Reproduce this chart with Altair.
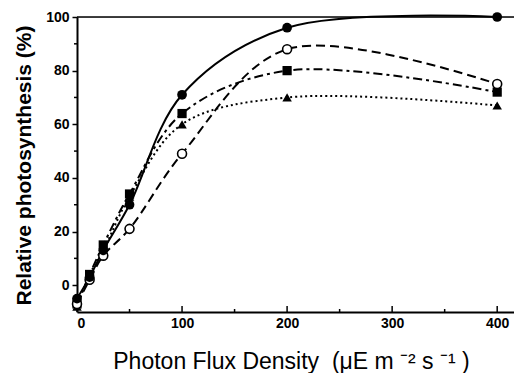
import altair as alt
import pandas as pd

# Photon flux density (x) and relative photosynthesis (%) for four treatments
ppfd = [0, 12, 25, 50, 100, 200, 400]
filled_circle = [-5, 3, 13, 30, 71, 96, 100]
open_circle = [-7, 2, 11, 21, 49, 88, 75]
filled_square = [-7, 4, 15, 34, 64, 80, 72]
filled_triangle = [-8, 4, 13, 33, 60, 70, 67]

x_major = [0, 100, 200, 300, 400]
x_minor = [50, 150, 250, 350]
y_major = [0, 20, 40, 60, 80, 100]
y_minor = [10, 30, 50, 70, 90]

W, H = 437, 295
FONT = "Liberation Sans"

xs = alt.Scale(domain=[0, 416], nice=False, zero=False)
ys = alt.Scale(domain=[-10, 100], nice=False, zero=False)


def df(vals):
    return pd.DataFrame({"x": ppfd, "y": vals})


def line(vals, dash, interp="catmull-rom"):
    kw = dict(color="black", strokeWidth=2, interpolate=interp, clip=False)
    if dash:
        kw["strokeDash"] = dash
    return alt.Chart(df(vals)).mark_line(**kw).encode(
        x=alt.X("x:Q", scale=xs), y=alt.Y("y:Q", scale=ys)
    )


def pts(vals, shape, size, filled=True):
    if filled:
        m = alt.Chart(df(vals)).mark_point(shape=shape, size=size, filled=True,
                                           color="black", opacity=1, clip=False)
    else:
        m = alt.Chart(df(vals)).mark_point(shape=shape, size=size, filled=True,
                                           fill="white", stroke="black",
                                           strokeWidth=1.6, opacity=1, clip=False)
    return m.encode(x=alt.X("x:Q", scale=xs), y=alt.Y("y:Q", scale=ys))


# base with axes
base = alt.Chart(df(filled_circle)).mark_point(opacity=0).encode(
    x=alt.X("x:Q", scale=xs,
            axis=alt.Axis(values=x_major, ticks=False, grid=False, domainWidth=2,
                          domainColor="black", labelFont=FONT, labelFontSize=14,
                          labelFontWeight="bold", labelColor="black", labelPadding=4,
                          title="Photon Flux Density\u00a0\u00a0(μE m\u00a0⁻² s\u00a0⁻¹\u00a0)",
                          titleFont=FONT, titleFontSize=23, titleFontWeight="normal",
                          titleColor="black", titleX=214, titleY=56,
                          titleBaseline="alphabetic")),
    y=alt.Y("y:Q", scale=ys,
            axis=alt.Axis(values=y_major, tickSize=5, tickWidth=1.5, tickColor="black",
                          grid=False, domainWidth=2, domainColor="black",
                          labelFont=FONT, labelFontSize=14, labelFontWeight="bold",
                          labelColor="black", labelPadding=3,
                          title="Relative photosynthesis (%)", titleFont=FONT,
                          titleFontSize=21, titleFontWeight="bold", titleColor="black",
                          titleX=-47, titleY=148, titleAngle=-90,
                          titleBaseline="alphabetic", titleAlign="center")),
)

top_rule = alt.Chart(pd.DataFrame({"y": [100]})).mark_rule(
    color="black", strokeWidth=1.5).encode(y=alt.Y("y:Q", scale=ys))

xmaj = alt.Chart(pd.DataFrame({"x": x_major})).mark_rule(color="black", strokeWidth=1.5).encode(
    x=alt.X("x:Q", scale=xs), y=alt.value(H), y2=alt.value(H - 6))
xmin = alt.Chart(pd.DataFrame({"x": x_minor})).mark_rule(color="black", strokeWidth=1.5).encode(
    x=alt.X("x:Q", scale=xs), y=alt.value(H), y2=alt.value(H - 3))
ymin = alt.Chart(pd.DataFrame({"y": y_minor})).mark_rule(color="black", strokeWidth=1.5).encode(
    y=alt.Y("y:Q", scale=ys), x=alt.value(-3), x2=alt.value(0))

chart = alt.layer(
    base, top_rule, xmaj, xmin, ymin,
    line(filled_circle, None),
    line(open_circle, [9, 5]),
    line(filled_square, [9, 4, 3, 4]),
    line(filled_triangle, [2, 3]),
    pts(filled_triangle, "triangle-up", 90),
    pts(filled_square, "square", 85),
    pts(open_circle, "circle", 80, filled=False),
    pts(filled_circle, "circle", 95),
).properties(
    width=W, height=H,
    autosize=alt.AutoSizeParams(type="none"),
    padding={"left": 77, "top": 17, "right": 0, "bottom": 61},
).configure_view(stroke=None).configure(background="white")

chart.save("out.html", embed_options={"renderer": "svg", "actions": False})
